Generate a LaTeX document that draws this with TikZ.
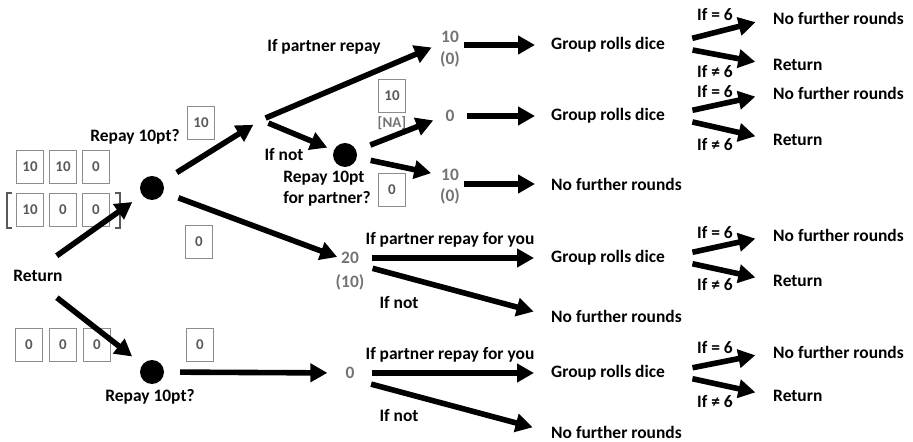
\documentclass[tikz,border=0pt]{standalone}
\usepackage{fontspec}
\setmainfont{Carlito}
\usetikzlibrary{arrows.meta,positioning}

\tikzset{
  txt/.style={font=\bfseries\fontsize{17.5}{21}\selectfont, inner sep=1bp},
  val/.style={txt, text=black!55},
  cell/.style={draw=black!45, line width=1.1bp, minimum width=27bp, minimum height=33bp,
    inner sep=0, text=black!65, font=\bfseries\fontsize{15}{17}\selectfont},
  dot/.style={circle, fill=black, minimum size=24bp, inner sep=0},
  arr/.style={line width=5.6bp, -{Triangle[length=17bp,width=18bp]}},
}

\begin{document}
\begin{tikzpicture}[x=1bp,y=-1bp]
            \useasboundingbox (0,0) rectangle (913,442);

            % first choice
            \node[txt] (ret) at (38,276) {Return};
            \node[dot] (d1) at (152,188) {};
            \node[dot] (d3) at (152,372) {};
            \node[txt] (q1) at (135,137) {Repay 10pt?};
            \node[txt] (q3) at (150,397) {Repay 10pt?};

            % payoff boxes on the left
            \node[cell] (t1) at (30,167) {10};
            \node[cell] (t2) at (63,167) {10};
            \node[cell] (t3) at (96,167) {0};
            \node[cell] (u1) at (30,210) {10};
            \node[cell] (u2) at (63,210) {0};
            \node[cell] (u3) at (96,210) {0};
            \node[cell] (b1) at (29,345) {0};
            \node[cell] (b2) at (63,345) {0};
            \node[cell] (b3) at (97,345) {0};
            \draw[black!65, line width=1.3bp] (12,193) -- (7,193) -- (7,228) -- (12,228);
            \draw[black!65, line width=1.3bp] (115,193) -- (120,193) -- (120,228) -- (115,228);

            \node[cell] (k1) at (201,123) {10};
            \node[cell] (k2) at (199,242) {0};
            \node[cell] (k3) at (200,345) {0};

            \draw[arr, shorten <=23bp, shorten >=12bp] (ret.north) -- (d1);
            \draw[arr, shorten <=24bp, shorten >=13bp] (ret.south) -- (d3);

            % partner branch
            \coordinate (f) at (261,120);
            \draw[arr, shorten <=17bp, shorten >=9bp] (d1) -- (f);
            \node[txt] (lp1) at (324,47) {If partner repay};
            \node[val] (v1) at (450,37) {10};
            \node[val] (v1b) at (450,59) {(0)};
            \draw[arr, shorten <=5bp, shorten >=9bp] (f) -- (v1.south west);

            \node[txt] (in1) at (284,155) {If not};
            \node[dot] (d2) at (345,155) {};
            \node[txt, align=left] (rp) at (327,189) {Repay 10pt\\for partner?};
            \draw[arr, shorten <=8bp, shorten >=7bp] (f) -- (d2);

            \node[cell] (k4) at (392,96) {10};
            \node[val, font=\bfseries\fontsize{15}{17}\selectfont] (na) at (392,123) {[NA]};
            \node[cell] (k5) at (392,190) {0};

            \node[val] (v2) at (450,116) {0};
            \node[val] (v3) at (450,175) {10};
            \node[val] (v3b) at (450,196) {(0)};
            \draw[arr, shorten <=15bp, shorten >=12bp] (d2) -- (v2.west);
            \draw[arr, shorten <=14bp, shorten >=9bp] (d2) -- (v3.west);

            \node[txt, anchor=west] (g1) at (550,45) {Group rolls dice};
            \node[txt, anchor=west] (g2) at (550,116) {Group rolls dice};
            \node[txt, anchor=west] (n1) at (550,184) {No further rounds};
            \draw[arr, shorten <=4bp, shorten >=15bp] (v1.east |- g1) -- (g1.west);
            \draw[arr, shorten <=11bp, shorten >=15bp] (v2.east) -- (g2.west);
            \draw[arr, shorten <=4bp, shorten >=15bp] (v3.east |- n1) -- (n1.west);

            % no repay branch
            \node[val] (v4) at (350,258) {20};
            \node[val] (v4b) at (350,282) {(10)};
            \draw[arr, shorten <=16bp, shorten >=3bp] (d1) -- (v4.west);
            \node[txt] (lp2) at (450,240) {If partner repay for you};
            \node[txt] (in2) at (399,303) {If not};
            \node[txt, anchor=west] (g3) at (550,258) {Group rolls dice};
            \node[txt, anchor=west] (n4) at (550,316) {No further rounds};
            \draw[arr, shorten <=12bp, shorten >=16bp] (v4.east) -- (g3.west);
            \draw[arr, shorten <=13bp, shorten >=17bp] (v4.south east) -- (n4.west);

            % return 0 branch
            \node[val] (v5) at (350,373) {0};
            \draw[arr, shorten <=16bp, shorten >=17bp] (d3) -- (v5.west);
            \node[txt] (lp3) at (450,355) {If partner repay for you};
            \node[txt] (in3) at (399,416) {If not};
            \node[txt, anchor=west] (g4) at (550,373) {Group rolls dice};
            \node[txt, anchor=west] (n6) at (550,432) {No further rounds};
            \draw[arr, shorten <=16bp, shorten >=16bp] (v5.east) -- (g4.west);
            \draw[arr, shorten <=16bp, shorten >=18bp] (v5.south east) -- (n6.west);

            % dice
            \node[txt, anchor=west] (n2) at (772,18) {No further rounds};
            \node[txt, anchor=west] (r1) at (772,65) {Return};
            \node[txt] (e1) at (715,15) {If = 6};
            \node[txt] (x1) at (715,72) {If ≠ 6};
            \draw[arr, shorten <=27bp, shorten >=17bp] (g1.east) -- (n2.west);
            \draw[arr, shorten <=27bp, shorten >=17bp] (g1.east) -- (r1.west);

            \node[txt, anchor=west] (n3) at (772,93) {No further rounds};
            \node[txt, anchor=west] (r2) at (772,140) {Return};
            \node[txt] (e2) at (715,92) {If = 6};
            \node[txt] (x2) at (715,145) {If ≠ 6};
            \draw[arr, shorten <=27bp, shorten >=17bp] (g2.east) -- (n3.west);
            \draw[arr, shorten <=27bp, shorten >=17bp] (g2.east) -- (r2.west);

            \node[txt, anchor=west] (n5) at (772,235) {No further rounds};
            \node[txt, anchor=west] (r3) at (772,281) {Return};
            \node[txt] (e3) at (715,233) {If = 6};
            \node[txt] (x3) at (715,285) {If ≠ 6};
            \draw[arr, shorten <=27bp, shorten >=17bp] (g3.east) -- (n5.west);
            \draw[arr, shorten <=27bp, shorten >=17bp] (g3.east) -- (r3.west);

            \node[txt, anchor=west] (n7) at (772,352) {No further rounds};
            \node[txt, anchor=west] (r4) at (772,396) {Return};
            \node[txt] (e4) at (715,348) {If = 6};
            \node[txt] (x4) at (715,402) {If ≠ 6};
            \draw[arr, shorten <=27bp, shorten >=17bp] (g4.east) -- (n7.west);
            \draw[arr, shorten <=27bp, shorten >=17bp] (g4.east) -- (r4.west);
        \end{tikzpicture}
\end{document}
